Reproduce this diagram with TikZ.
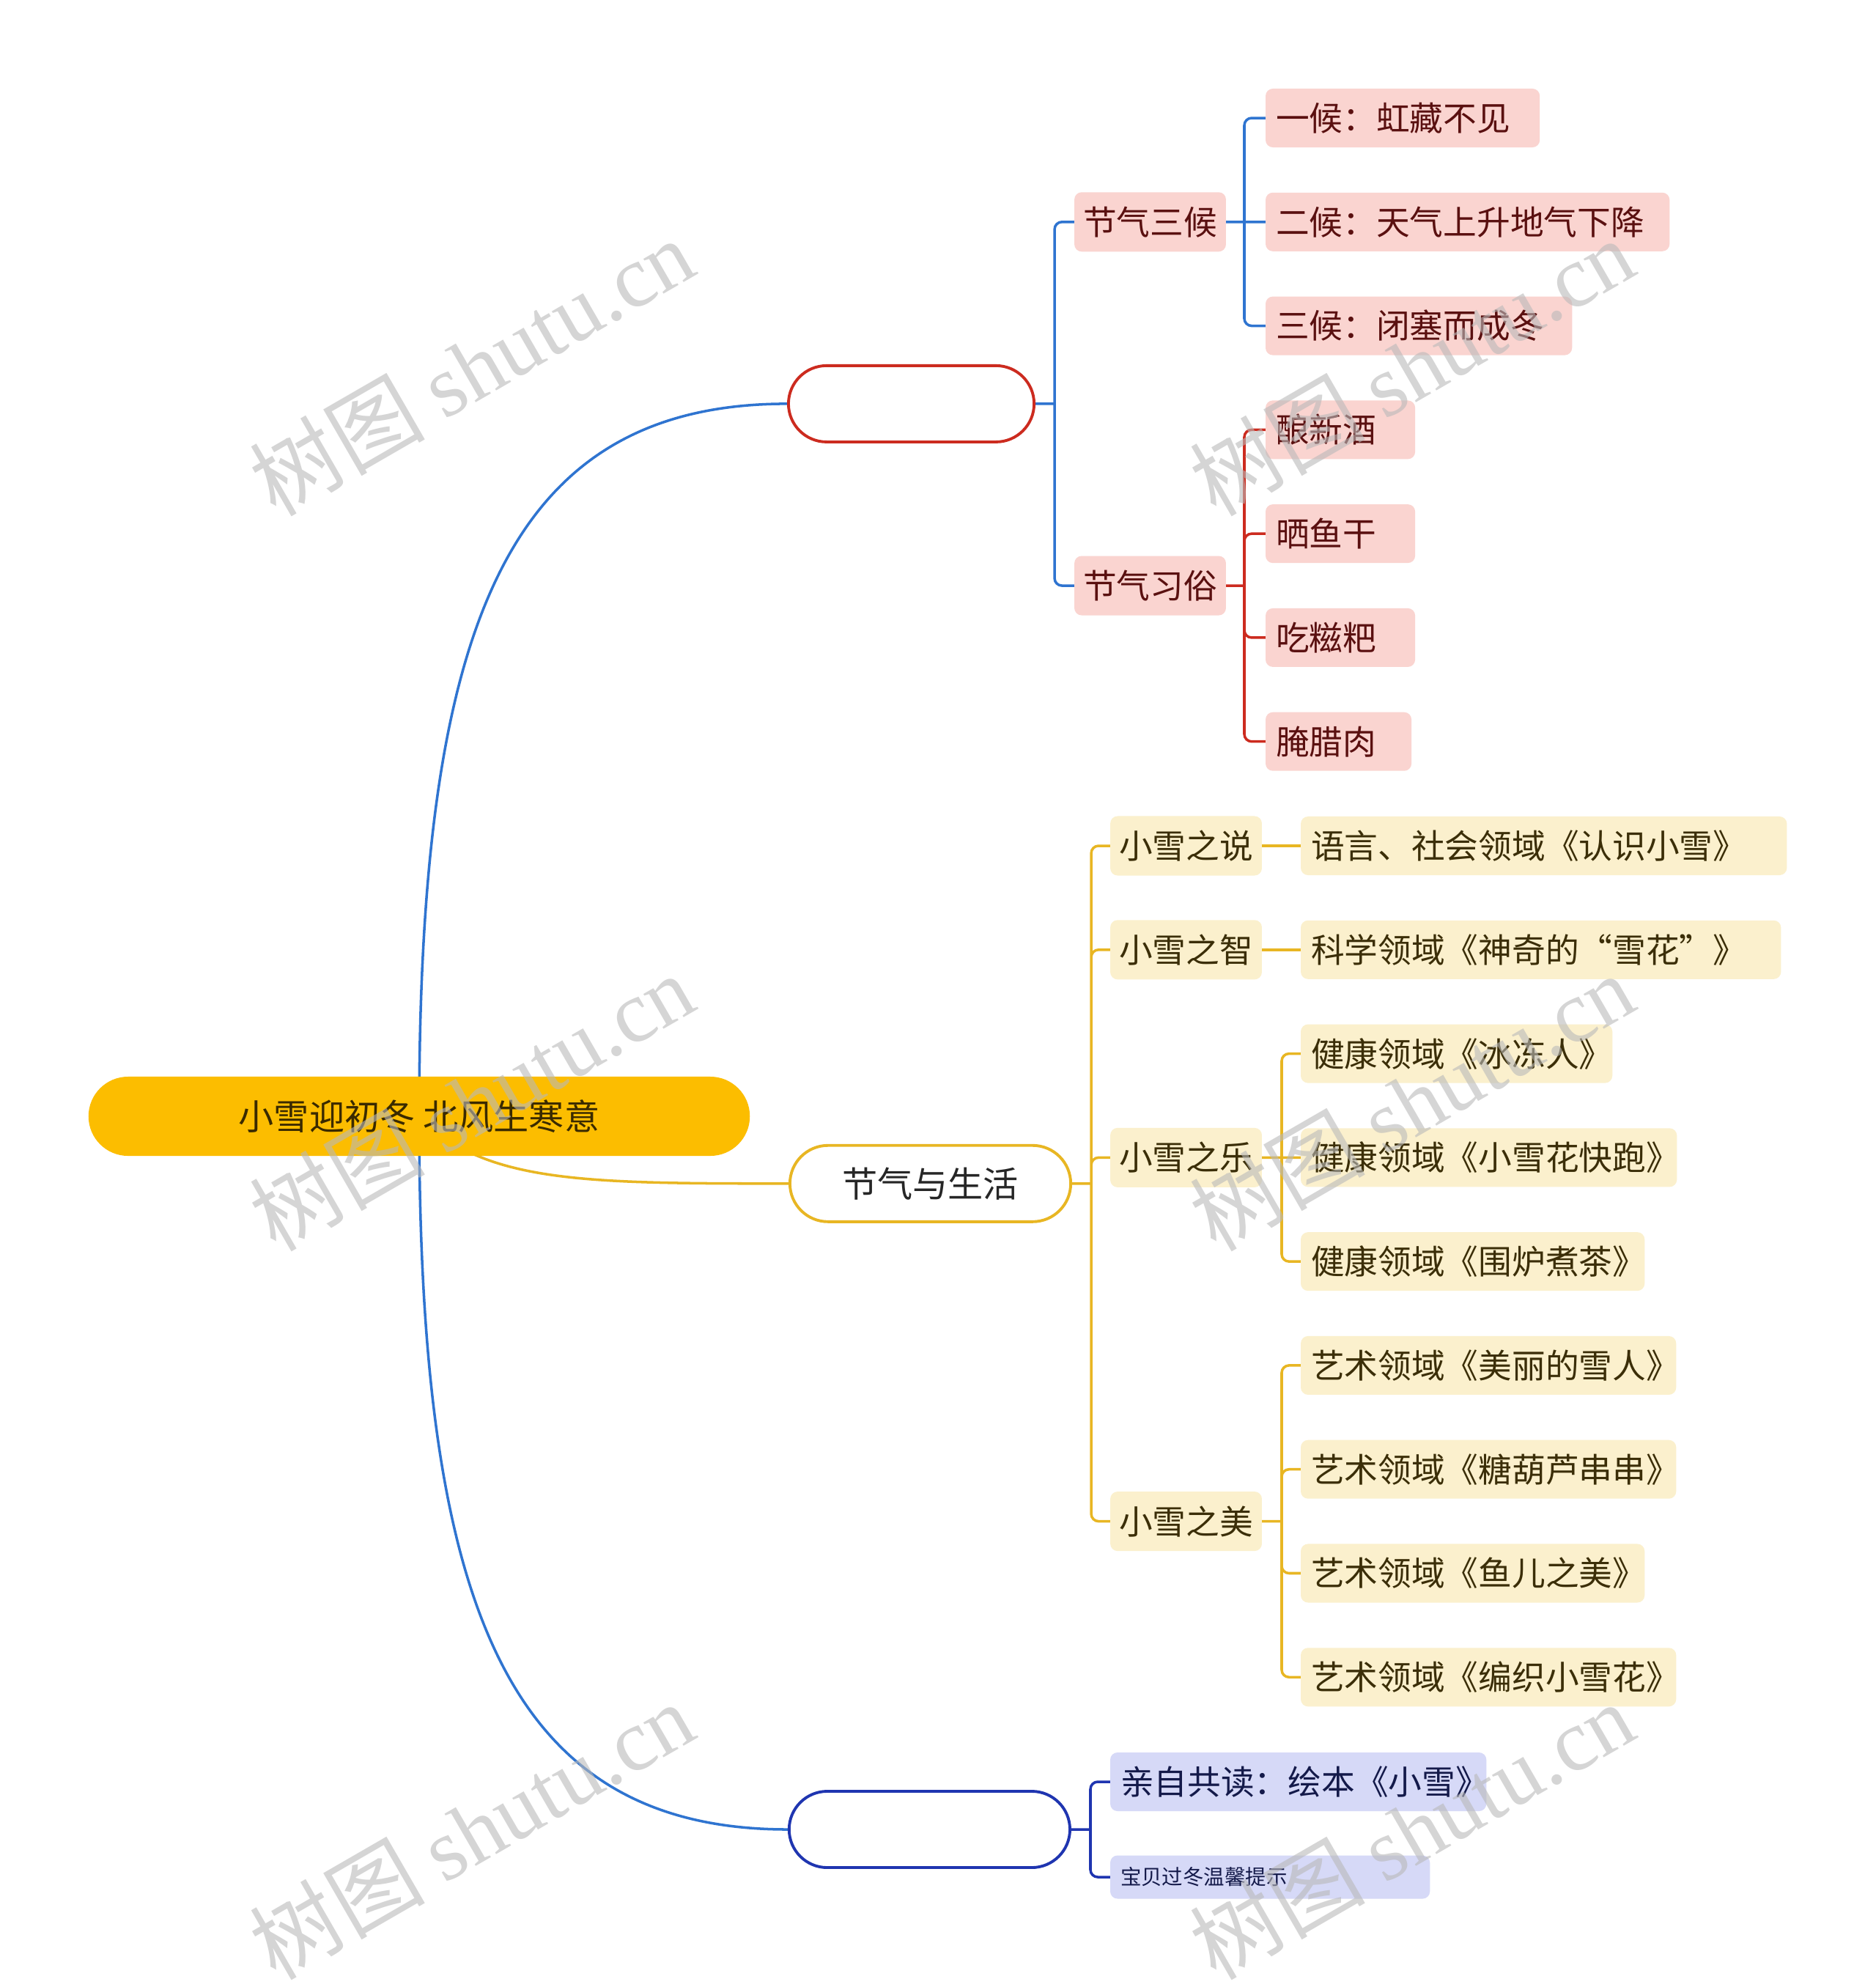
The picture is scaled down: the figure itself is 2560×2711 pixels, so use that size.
\documentclass[tikz,border=0pt]{standalone}
\usepackage{fontspec}
\setmainfont{Noto Sans CJK SC}
\newfontfamily\wmfont{Liberation Serif}
\usepackage{tikz}
\usetikzlibrary{positioning,calc,backgrounds}

\definecolor{rootfill}{HTML}{FCBD00}
\definecolor{roottext}{HTML}{3A2A00}
\definecolor{topictext}{HTML}{262626}
\definecolor{lineblue}{HTML}{2F74D0}
\definecolor{linered}{HTML}{CC2B1F}
\definecolor{linegold}{HTML}{E8B623}
\definecolor{linenavy}{HTML}{1F35B0}
\definecolor{pinkfill}{HTML}{FAD4D0}
\definecolor{pinktext}{HTML}{5A1010}
\definecolor{creamfill}{HTML}{FBF0CD}
\definecolor{creamtext}{HTML}{3B2E08}
\definecolor{lavfill}{HTML}{D6D9F7}
\definecolor{lavtext}{HTML}{141A4A}

\newcommand{\rootfnt}{\fontsize{13.7pt}{16pt}\selectfont}
\newcommand{\itemfnt}{\fontsize{13pt}{15pt}\selectfont}
\newcommand{\tipfnt}{\fontsize{8.1pt}{10pt}\selectfont}
\newcommand{\wmfnt}{\fontsize{34pt}{38pt}\selectfont}

\tikzset{
  rootbox/.style={fill=rootfill, text=roottext, rounded corners=5.4mm, minimum width=90.2mm, minimum height=10.8mm, font=\rootfnt},
  topic/.style={draw=#1, line width=1.1pt, fill=white, rounded corners=5.2mm, minimum height=10.4mm, text=topictext, font=\rootfnt},
  sub/.style={rounded corners=1mm, minimum height=8.1mm, inner xsep=1.2mm, outer sep=0pt, font=\itemfnt},
  rsub/.style={sub, fill=pinkfill, text=pinktext},
  gsub/.style={sub, fill=creamfill, text=creamtext},
  leaf/.style={rounded corners=1mm, minimum height=8mm, inner xsep=1.4mm, inner ysep=0pt, outer sep=0pt, align=left, anchor=west, font=\itemfnt},
  rleaf/.style={leaf, fill=pinkfill, text=pinktext},
  gleaf/.style={leaf, fill=creamfill, text=creamtext},
  nleaf/.style={leaf, fill=lavfill, text=lavtext},
  stack/.style={below=of #1.south west, anchor=north west},
  link/.style={line width=1pt, rounded corners=1mm},
  wmark/.style={text=gray!55, opacity=0.6, rotate=30, font=\wmfnt},
}

\begin{document}
\begin{tikzpicture}[x=0.01cm, y=-0.01cm, node distance=6.17mm and 5.3mm]
  \useasboundingbox (0,0) rectangle (2560,2711);

  % root
  \node[rootbox] (root) at (572,1523) {小雪迎初冬 北风生寒意};

  % first branch: leaves, then subtopics
  \node[rleaf, text width=34.6mm] (l1) at (1727,161) {一候：虹藏不见};
  \node[rleaf, stack=l1, text width=52.3mm] (l2) {二候：天气上升地气下降};
  \node[rleaf, stack=l2, text width=39.0mm] (l3) {三候：闭塞而成冬};
  \node[rleaf, stack=l3, text width=17.6mm] (l4) {酿新酒};
  \node[rleaf, stack=l4, text width=17.6mm] (l5) {晒鱼干};
  \node[rleaf, stack=l5, text width=17.6mm] (l6) {吃糍粑};
  \node[rleaf, stack=l6, text width=17.1mm] (l7) {腌腊肉};

  \node[rsub, left=5.4mm of l2] (s1) {节气三候};
  \node[rsub, left=5.4mm of $(l5.west)!0.5!(l6.west)$] (s2) {节气习俗};
  \node[topic=linered, left=5.3mm of $(s1.west)!0.5!(s2.west)$, minimum width=33.5mm] (b1) {};

  % second branch
  \node[gleaf, text width=63.5mm] (g1) at (1775,1154) {语言、社会领域《认识小雪》};
  \node[gleaf, stack=g1, text width=62.7mm] (g2) {科学领域《神奇的“雪花”》};
  \node[gleaf, stack=g2, text width=39.7mm] (g3) {健康领域《冰冻人》};
  \node[gleaf, stack=g3, text width=48.5mm] (g4) {健康领域《小雪花快跑》};
  \node[gleaf, stack=g4, text width=44.1mm] (g5) {健康领域《围炉煮茶》};
  \node[gleaf, stack=g5, text width=48.4mm] (g6) {艺术领域《美丽的雪人》};
  \node[gleaf, stack=g6, text width=48.4mm] (g7) {艺术领域《糖葫芦串串》};
  \node[gleaf, stack=g7, text width=44.1mm] (g8) {艺术领域《鱼儿之美》};
  \node[gleaf, stack=g8, text width=48.4mm] (g9) {艺术领域《编织小雪花》};

  \node[gsub, left=5.3mm of g1] (s21) {小雪之说};
  \node[gsub, left=5.3mm of g2] (s22) {小雪之智};
  \node[gsub, left=5.3mm of g4] (s23) {小雪之乐};
  \node[gsub, left=5.3mm of $(g7.west)!0.5!(g8.west)$] (s24) {小雪之美};
  \node[topic=linegold, left=5.2mm of $(s21.west)!0.5!(s24.west)$, minimum width=38.3mm] (b2) {节气与生活};

  % third branch
  \node[nleaf, text width=48.5mm] (n1) at (1515,2431) {亲自共读：绘本《小雪》};
  \node[nleaf, minimum height=5.9mm, text width=40.8mm, font=\tipfnt] (n2) at (1515,2561) {宝贝过冬温馨提示};
  \node[topic=linenavy, left=5.3mm of $(n1.west)!0.5!(n2.west)$, minimum width=38.3mm] (b3) {};

  % connectors
  \begin{scope}[on background layer]
    \fill[white] (0,0) rectangle (2560,2711);
    \draw[link, lineblue] (root.center) .. controls +(0,-659) and +(-388,0) .. (b1.west);
    \draw[link, linegold] (root.center) .. controls +(88,91) and +(-279,0) .. (b2.west);
    \draw[link, lineblue] (root.center) .. controls +(0,659) and +(-388,0) .. (b3.west);

    \coordinate (j1) at ([xshift=2.6mm]b1.east);
    \draw[link, lineblue] (b1.east) -- (j1) (j1) |- (s1.west) (j1) |- (s2.west);
    \coordinate (j11) at ([xshift=2.5mm]s1.east);
    \draw[link, lineblue] (s1.east) -- (j11) (j11) |- (l1.west) (j11) -- (l2.west) (j11) |- (l3.west);
    \coordinate (j12) at ([xshift=2.5mm]s2.east);
    \draw[link, linered] (s2.east) -- (j12) (j12) |- (l4.west) (j12) |- (l5.west) (j12) |- (l6.west) (j12) |- (l7.west);

    \coordinate (j2) at ([xshift=2.6mm]b2.east);
    \draw[link, linegold] (b2.east) -- (j2) (j2) |- (s21.west) (j2) |- (s22.west) (j2) |- (s23.west) (j2) |- (s24.west);
    \draw[link, linegold] (s21) -- (g1);
    \draw[link, linegold] (s22) -- (g2);
    \coordinate (j23) at ([xshift=2.7mm]s23.east);
    \draw[link, linegold] (s23.east) -- (j23) (j23) |- (g3.west) (j23) -- (g4.west) (j23) |- (g5.west);
    \coordinate (j24) at ([xshift=2.7mm]s24.east);
    \draw[link, linegold] (s24.east) -- (j24) (j24) |- (g6.west) (j24) |- (g7.west) (j24) |- (g8.west) (j24) |- (g9.west);

    \coordinate (j3) at ([xshift=2.6mm]b3.east);
    \draw[link, linenavy] (b3.east) -- (j3) (j3) |- (n1.west) (j3) |- (n2.west);
  \end{scope}

  % watermarks
  \node[wmark] (w1) at (643,500) {树图 {\wmfont shutu.cn}};
  \node[wmark] (w2) at (1926,500) {树图 {\wmfont shutu.cn}};
  \node[wmark] (w3) at (643,1503) {树图 {\wmfont shutu.cn}};
  \node[wmark] (w4) at (1926,1503) {树图 {\wmfont shutu.cn}};
  \node[wmark] (w5) at (643,2497) {树图 {\wmfont shutu.cn}};
  \node[wmark] (w6) at (1926,2497) {树图 {\wmfont shutu.cn}};
\end{tikzpicture}
\end{document}
